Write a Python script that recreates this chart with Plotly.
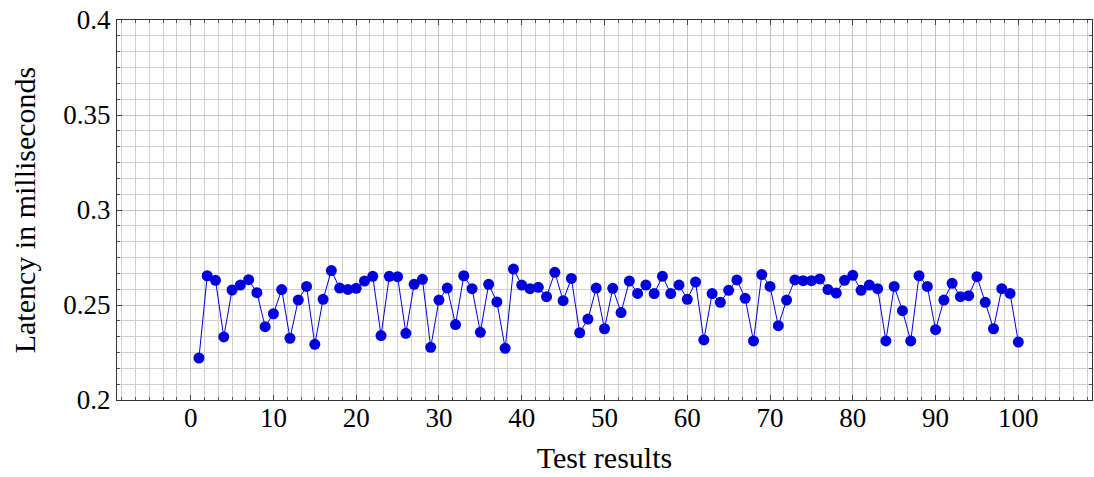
import plotly.graph_objects as go

test_ids = list(range(1, 101))
latency_ms = [
    0.2221, 0.2654, 0.2630, 0.2332, 0.2579, 0.2605, 0.2633, 0.2565, 0.2386, 0.2454,
    0.2581, 0.2325, 0.2526, 0.2598, 0.2293, 0.2530, 0.2681, 0.2589, 0.2582, 0.2588,
    0.2626, 0.2651, 0.2339, 0.2651, 0.2649, 0.2351, 0.2609, 0.2635, 0.2277, 0.2526,
    0.2589, 0.2397, 0.2654, 0.2586, 0.2356, 0.2609, 0.2516, 0.2272, 0.2689, 0.2605,
    0.2586, 0.2593, 0.2544, 0.2672, 0.2523, 0.2640, 0.2354, 0.2426, 0.2589, 0.2375,
    0.2588, 0.2460, 0.2626, 0.2561, 0.2605, 0.2560, 0.2651, 0.2560, 0.2605, 0.2530,
    0.2621, 0.2316, 0.2560, 0.2514, 0.2577, 0.2632, 0.2535, 0.2311, 0.2660, 0.2598,
    0.2391, 0.2526, 0.2632, 0.2628, 0.2628, 0.2637, 0.2581, 0.2563, 0.2630, 0.2656,
    0.2577, 0.2605, 0.2586, 0.2311, 0.2598, 0.2470, 0.2311, 0.2654, 0.2598, 0.2370,
    0.2526, 0.2614, 0.2544, 0.2549, 0.2649, 0.2514, 0.2375, 0.2586, 0.2561, 0.2305,
]
x_ticks = [0, 10, 20, 30, 40, 50, 60, 70, 80, 90, 100]
y_ticks = [0.2, 0.25, 0.3, 0.35, 0.4]
y_tick_text = ["0.2", "0.25", "0.3", "0.35", "0.4"]

FONT = "Liberation Serif"
BLUE = "#0000DC"

fig = go.Figure()
fig.add_trace(go.Scatter(
    x=test_ids, y=latency_ms, mode="lines+markers",
    line=dict(color=BLUE, width=1),
    marker=dict(color=BLUE, size=11, line=dict(width=0)),
    showlegend=False,
))

fig.update_layout(
    width=1094, height=477,
    margin=dict(l=117, r=2, t=20, b=77),
    paper_bgcolor="white", plot_bgcolor="white",
    font=dict(family=FONT, size=27, color="black"),
)
fig.update_xaxes(
    range=[-8.9, 108.9], tickmode="array", tickvals=x_ticks,
    ticks="inside", ticklen=5, tickcolor="#444", tickwidth=1,
    tickfont=dict(family=FONT, size=27), ticklabelstandoff=-6,
    showgrid=True, gridcolor="#c4c4c4", gridwidth=1,
    minor=dict(dtick=10/6, tick0=0, showgrid=True, gridcolor="#d0d0d0", gridwidth=1,
               ticks="inside", ticklen=3, tickcolor="#555"),
    showline=True, linecolor="#333", linewidth=1, mirror="ticks",
    zeroline=False,
    title=dict(text="Test results", font=dict(family=FONT, size=30), standoff=14),
)
fig.update_yaxes(
    range=[0.2, 0.4], tickmode="array", tickvals=y_ticks, ticktext=y_tick_text,
    ticks="inside", ticklen=5, tickcolor="#444", tickwidth=1,
    tickfont=dict(family=FONT, size=27),
    showgrid=True, gridcolor="#c4c4c4", gridwidth=1,
    minor=dict(dtick=0.05/6, tick0=0.2, showgrid=True, gridcolor="#d0d0d0", gridwidth=1,
               ticks="inside", ticklen=3, tickcolor="#555"),
    showline=True, linecolor="#333", linewidth=1, mirror="ticks",
    zeroline=False,
    title=dict(text="Latency in milliseconds", font=dict(family=FONT, size=30), standoff=18),
)

fig.write_html("out.html")
